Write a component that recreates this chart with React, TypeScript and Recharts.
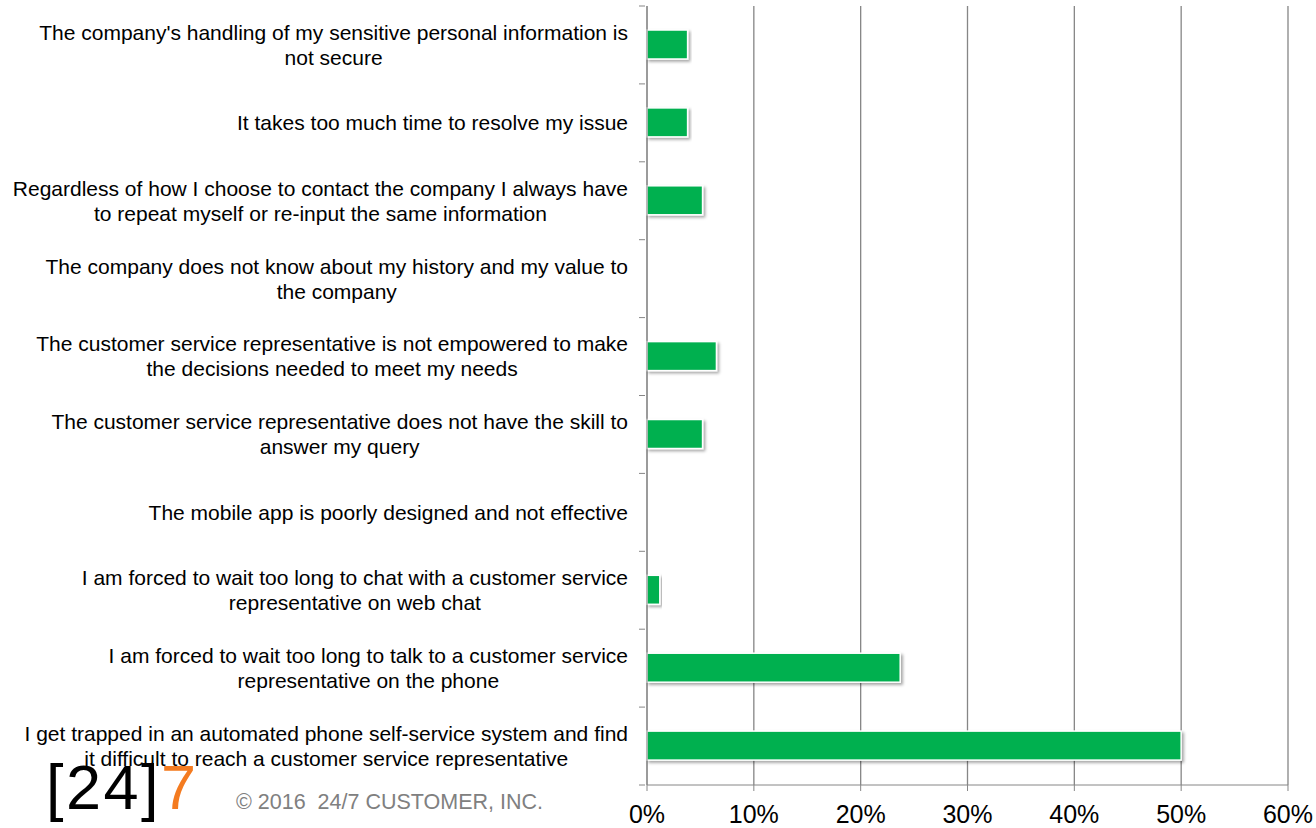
import React from 'react';
import { BarChart, Bar, XAxis, YAxis, CartesianGrid } from 'recharts';

// survey reasons, top to bottom
const categories = [
  "The company's handling of my sensitive personal information is\nnot secure",
  'It takes too much time to resolve my issue',
  'Regardless of how I choose to contact the company I always have\nto repeat myself or re-input the same information',
  'The company does not know about my history and my value to\nthe company',
  'The customer service representative is not empowered to make\nthe decisions needed to meet my needs',
  'The customer service representative does not have the skill to\nanswer my query',
  'The mobile app is poorly designed and not effective',
  'I am forced to wait too long to chat with a customer service\nrepresentative on web chat',
  'I am forced to wait too long to talk to a customer service\nrepresentative on the phone',
  'I get trapped in an automated phone self-service system and find\nit difficult to reach a customer service representative',
];
const shares = [3.8, 3.8, 5.2, 0, 6.5, 5.2, 0, 1.2, 23.7, 50];
const xTicks = [0, 10, 20, 30, 40, 50, 60];

const data = categories.map((name, i) => ({ name, value: shares[i] }));

const FAMILY = "'Liberation Sans', Arial, sans-serif";
const LABEL_FONT = `21px ${FAMILY}`;
const BAND = 779 / categories.length;

let ctx: CanvasRenderingContext2D | null = null;
const measure = (s: string) => {
  if (!ctx) ctx = document.createElement('canvas').getContext('2d');
  if (!ctx) return s.length * 10.5;
  ctx.font = LABEL_FONT;
  return ctx.measureText(s).width;
};

const CategoryTick = (props: any) => {
  const { x, y, payload } = props;
  const lines: string[] = String(payload.value).split('\n');
  const widest = Math.max(...lines.map(measure));
  const right = x - 11;
  const cx = right - widest / 2;
  const axisX = x + 6;
  return (
    <g>
      <line x1={axisX - 6} x2={axisX} y1={y - BAND / 2} y2={y - BAND / 2} stroke="#868686" />
      {props.index === categories.length - 1 && (
        <line x1={axisX - 6} x2={axisX} y1={y + BAND / 2} y2={y + BAND / 2} stroke="#868686" />
      )}
      <text x={cx} y={y} textAnchor="middle" fill="#000" fontSize={21} fontFamily={FAMILY}>
        {lines.map((l, i) => (
          <tspan key={i} x={cx} y={y + (i - (lines.length - 1) / 2) * 25} dy="0.35em">
            {l}
          </tspan>
        ))}
      </text>
    </g>
  );
};

const PercentTick = (props: any) => {
  const { x, y, payload } = props;
  return (
    <text x={x} y={y + 30} textAnchor="middle" fill="#000" fontSize={25} fontFamily={FAMILY}>
      {payload.value}%
    </text>
  );
};

const ShadowBar = (props: any) => {
  const { x, y, width, height } = props;
  if (!width || width <= 0) return null;
  return (
    <rect x={x} y={y} width={width} height={height} fill="#00B050" stroke="#fff" strokeWidth={1.5} filter="url(#barShadow)" />
  );
};

export default function App() {
  return (
    <div style={{ position: 'absolute', top: 0, left: 0, width: 1316, height: 828, background: '#fff', overflow: 'hidden' }}>
      <BarChart
        width={1316}
        height={828}
        data={data}
        layout="vertical"
        margin={{ top: 6, right: 28, bottom: 0, left: 0 }}
        barSize={29}
      >
        <defs>
          <filter id="barShadow" x="-5%" y="-30%" width="115%" height="170%">
            <feDropShadow dx="2" dy="2" stdDeviation="1.5" floodColor="#000" floodOpacity="0.35" />
          </filter>
        </defs>
        <CartesianGrid horizontal={false} stroke="#868686" strokeWidth={1.3} />
        <XAxis
          type="number"
          domain={[0, 60]}
          ticks={xTicks}
          height={43}
          axisLine={{ stroke: '#868686' }}
          tickLine={{ stroke: '#868686' }}
          tickSize={6}
          tick={<PercentTick />}
          interval={0}
        />
        <YAxis
          type="category"
          dataKey="name"
          width={647}
          axisLine={{ stroke: '#868686' }}
          tickLine={false}
          tick={<CategoryTick />}
          interval={0}
        />
        <Bar dataKey="value" shape={<ShadowBar />} isAnimationActive={false} />
      </BarChart>
      <div
        style={{
          position: 'absolute',
          left: 46,
          top: 754,
          fontFamily: FAMILY,
          fontSize: 63,
          lineHeight: '66px',
          letterSpacing: 2.5,
          whiteSpace: 'nowrap',
        }}
      >
        <span style={{ color: '#000' }}>[24]</span>
        <span style={{ color: '#F47B20' }}>7</span>
      </div>
      <div
        style={{
          position: 'absolute',
          left: 236,
          top: 790,
          fontFamily: FAMILY,
          fontSize: 21.5,
          color: '#808080',
          whiteSpace: 'pre',
        }}
      >
        © 2016  24/7 CUSTOMER, INC.
      </div>
    </div>
  );
}
